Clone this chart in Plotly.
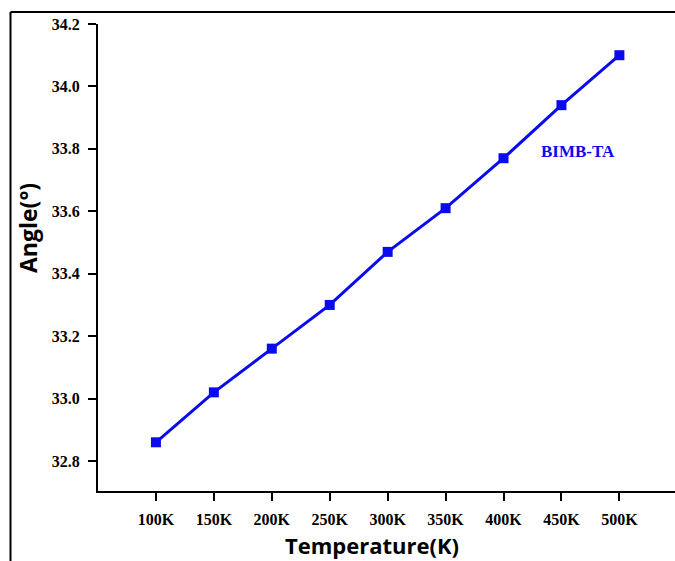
import plotly.graph_objects as go

# Temperature dependence of the angle for BIMB-TA
temperature_k = [100, 150, 200, 250, 300, 350, 400, 450, 500]
temp_labels = ["100K", "150K", "200K", "250K", "300K", "350K", "400K", "450K", "500K"]
angle_deg = [32.86, 33.02, 33.16, 33.30, 33.47, 33.61, 33.77, 33.94, 34.10]
y_ticks = [32.8, 33.0, 33.2, 33.4, 33.6, 33.8, 34.0, 34.2]
series_name = "BIMB-TA"

W, H = 675, 561
ML, MR, MT, MB = 98, 0, 24, 70
pw, ph = W - ML - MR, H - MT - MB


def px_x(px):
    return (px - ML) / pw


def px_y(py):
    return (H - MB - py) / ph


serif = "Liberation Serif, Times New Roman, serif"
sans = "Open Sans, Liberation Sans, Arial, sans-serif"
blue = "#0a0af0"

fig = go.Figure()
fig.add_trace(go.Scatter(
    x=temperature_k, y=angle_deg, mode="lines+markers", name=series_name,
    line=dict(color=blue, width=3),
    marker=dict(symbol="square", size=10, color=blue),
    showlegend=False,
))

fig.add_annotation(x=464, y=33.79, text="<b>" + series_name + "</b>", showarrow=False,
                   xanchor="center", yanchor="middle",
                   font=dict(family=serif, size=17, color=blue))

# axis titles
fig.add_annotation(x=px_x(372), y=px_y(545), xref="paper", yref="paper",
                   xanchor="center", yanchor="middle",
                   text="<b>Temperature(K)</b>", showarrow=False,
                   font=dict(family=sans, size=22, color="black"))
fig.add_annotation(x=px_x(28), y=px_y(228), xref="paper", yref="paper",
                   xanchor="center", yanchor="middle",
                   text="<b>Angle(°)</b>", showarrow=False, textangle=-90,
                   font=dict(family=sans, size=23, color="black"))

# outer frame lines
fig.add_shape(type="line", xref="paper", yref="paper",
              x0=px_x(10.5), x1=px_x(680), y0=px_y(12), y1=px_y(12),
              line=dict(color="black", width=2))
fig.add_shape(type="line", xref="paper", yref="paper",
              x0=px_x(10.5), x1=px_x(10.5), y0=px_y(12), y1=px_y(570),
              line=dict(color="black", width=2))

fig.update_xaxes(
    range=[50, 548], tickmode="array", tickvals=temperature_k,
    ticktext=["<b>%s</b>" % t for t in temp_labels],
    showline=True, linecolor="black", linewidth=2, showgrid=False, zeroline=False,
    ticks="outside", ticklen=8, tickwidth=2, tickcolor="black",
    ticklabelstandoff=5,
    tickfont=dict(family=serif, size=16, color="black"),
)
fig.update_yaxes(
    range=[32.704, 34.2], tickmode="array", tickvals=y_ticks,
    ticktext=["<b>%.1f</b>" % v for v in y_ticks],
    showline=True, linecolor="black", linewidth=2, showgrid=False, zeroline=False,
    ticks="outside", ticklen=8, tickwidth=2, tickcolor="black",
    ticklabelstandoff=5,
    tickfont=dict(family=serif, size=16, color="black"),
)

fig.update_layout(
    width=W, height=H, margin=dict(l=ML, r=MR, t=MT, b=MB),
    plot_bgcolor="white", paper_bgcolor="white",
)

# keep the page free of body margin and scrollbars
page_css = ("document.documentElement.style.overflow='hidden';"
            "document.body.style.margin='0';"
            "document.body.style.overflow='hidden';")
fig.write_html("out.html", post_script=page_css)
